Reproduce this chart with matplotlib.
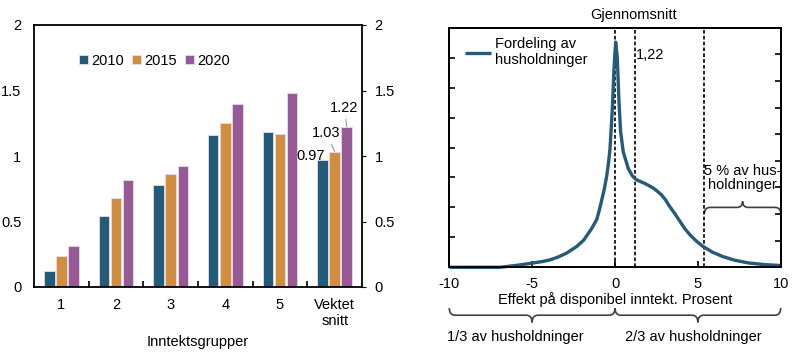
import numpy as np
import matplotlib
matplotlib.use("Agg")
import matplotlib.pyplot as plt
import matplotlib.transforms as mtransforms
from matplotlib.path import Path
from matplotlib.patches import PathPatch

plt.rcParams["font.family"] = ["Liberation Sans", "DejaVu Sans"]
plt.rcParams["font.size"] = 10

# Left panel: bar chart by income group
groups = ["1", "2", "3", "4", "5", "Vektet\nsnitt"]
years = ["2010", "2015", "2020"]
v2010 = [0.12, 0.54, 0.78, 1.16, 1.18, 0.97]
v2015 = [0.24, 0.68, 0.86, 1.25, 1.17, 1.03]
v2020 = [0.31, 0.82, 0.92, 1.40, 1.48, 1.22]
bar_colors = ["#245a7a", "#d18d40", "#985a96"]

# Right panel: distribution of households
dist_x = [-10, -6.94, -6.0, -5.0, -4.4, -3.9, -3.4, -2.9, -2.3, -1.9,
          -1.4, -1.1, -0.95, -0.8, -0.65, -0.5, -0.4, -0.3, -0.16, -0.06,
          0.04, 0.14, 0.24, 0.34, 0.5, 0.8, 1.05, 1.3, 1.8, 2.3, 2.6, 2.8,
          3.05, 3.3, 3.6, 3.9, 4.2, 4.5, 4.9, 5.3, 5.9, 6.5, 7.2, 8.0,
          9.0, 10]
dist_y = [0, 0, 0.06, 0.14, 0.19, 0.25, 0.35, 0.48, 0.70, 0.90,
          1.30, 1.60, 1.90, 2.25, 2.60, 3.05, 3.45, 3.97, 5.3, 6.63,
          7.52, 6.97, 5.52, 4.52, 3.85, 3.3, 3.05, 2.92, 2.8, 2.65, 2.52,
          2.42, 2.25, 2.03, 1.8, 1.55, 1.30, 1.10, 0.88, 0.70, 0.50, 0.36,
          0.24, 0.15, 0.09, 0.06]
mean_val = 1.22
pct5_val = 5.4

fig = plt.figure(figsize=(7.97, 3.64), dpi=100)

# ---------------- left panel
ax1 = fig.add_axes([34/797, 77/364, 328/797, 262/364])
pos = np.arange(len(groups))
w = 0.19
off = 0.22
for i, (vals, col) in enumerate(zip([v2010, v2015, v2020], bar_colors)):
    ax1.bar(pos + (i - 1) * off, vals, width=w, color=col,
            edgecolor="#e6dde8", linewidth=0.6, label=years[i])

ax1.set_xlim(-0.5, 5.5)
ax1.set_ylim(0, 2)
ax1.set_yticks([0, 0.5, 1, 1.5, 2])
ax1.set_yticklabels(["0", "0.5", "1", "1.5", "2"])
ax1.tick_params(axis="y", left=False, right=True, labelright=True,
                direction="out", length=3, pad=6, labelsize=10.5)
ax1.set_xticks(pos)
ax1.set_xticklabels(groups, linespacing=1.15)
ax1.tick_params(axis="x", which="major", length=0, pad=8, labelsize=10.5)
ax1.set_xticks(pos[:-1] + 0.5, minor=True)
ax1.tick_params(axis="x", which="minor", direction="in", length=4, width=1.2)
for s in ax1.spines.values():
    s.set_linewidth(1.3)
ax1.set_xlabel("Inntektsgrupper", fontsize=10.5, labelpad=5)

ax1.legend(loc="center left", bbox_to_anchor=(0.12, 0.863), ncol=3,
           frameon=False, handlelength=0.6, handleheight=0.6,
           handletextpad=0.2, columnspacing=0.6, fontsize=10.5,
           borderaxespad=0)

ax1.text(4.82, 1.0, "0.97", ha="right", va="center", fontsize=10.5)
ax1.annotate("1.03", xy=(5.0, 1.035), xytext=(4.85, 1.173),
             ha="center", va="center", fontsize=10.5,
             arrowprops=dict(arrowstyle="-", color="#999999", lw=0.8,
                             shrinkA=1, shrinkB=0))
ax1.annotate("1.22", xy=(5.22, 1.225), xytext=(5.18, 1.364),
             ha="center", va="center", fontsize=10.5,
             arrowprops=dict(arrowstyle="-", color="#999999", lw=0.8,
                             shrinkA=1, shrinkB=0))

# ---------------- right panel
ax2 = fig.add_axes([449.3/797, 96.7/364, 331.4/797, 239.6/364])
ax2.plot(dist_x, dist_y, color="#245a7a", lw=2.4, solid_capstyle="butt",
         solid_joinstyle="round", label="Fordeling av\nhusholdninger",
         clip_on=False, zorder=3)
ax2.set_xlim(-10, 10)
ax2.set_ylim(0, 8)
for xv in [0, mean_val, pct5_val]:
    ax2.axvline(xv, color="black", lw=1.2, ls=(0, (2.2, 1.3)), zorder=2)

ax2.set_xticks([-10, -5, 0, 5, 10])
ax2.set_xticklabels(["-10", "-5", "0", "5", "10"])
ax2.tick_params(axis="x", direction="in", length=4, width=1.2, pad=7,
                labelsize=10.5)
ax2.set_yticks(np.arange(1, 8))
ax2.tick_params(axis="y", direction="in", length=4, width=1.2,
                labelleft=False)
ax2r = ax2.twinx()
ax2r.set_ylim(0, 9)
ax2r.set_yticks(np.arange(1, 9))
ax2r.tick_params(axis="y", direction="in", length=4, width=1.2,
                 labelright=False)
for a in (ax2, ax2r):
    for s in a.spines.values():
        s.set_linewidth(1.3)

ax2.legend(loc="upper left", bbox_to_anchor=(0.03, 0.985), frameon=False,
           handlelength=1.8, handletextpad=0.25, fontsize=10.5,
           borderaxespad=0, labelspacing=0.1)

ax2.text(1.1, 1.055, "Gjennomsnitt", transform=ax2.get_xaxis_transform(),
         ha="center", va="center", fontsize=10.5)
ax2.text(mean_val + 0.05, 7.08, "1,22", ha="left", va="center", fontsize=10.5)
ax2.text(7.7, 2.97, "5 % av hus-\nholdninger", ha="center", va="center",
         fontsize=10.5, linespacing=1.0)
ax2.text(0.5, -0.135, "Effekt på disponibel inntekt. Prosent",
         transform=ax2.transAxes, ha="center", va="center", fontsize=10.5)

trans = mtransforms.blended_transform_factory(ax2.transData, ax2.transAxes)


def brace(ax, x0, x1, y, h, tr, up=True):
    d = 1 if up else -1
    xm = (x0 + x1) / 2
    q = 0.35
    verts = [(x0, y - d * h), (x0, y), (x0 + q, y),
             (xm - q, y), (xm, y), (xm, y + d * h),
             (xm, y), (xm + q, y),
             (x1 - q, y), (x1, y), (x1, y - d * h)]
    codes = [Path.MOVETO, Path.CURVE3, Path.CURVE3,
             Path.LINETO, Path.CURVE3, Path.CURVE3,
             Path.CURVE3, Path.CURVE3,
             Path.LINETO, Path.CURVE3, Path.CURVE3]
    ax.add_patch(PathPatch(Path(verts, codes), fill=False, lw=1.2,
                           edgecolor="#404040", transform=tr, clip_on=False))


brace(ax2, pct5_val, 10, 0.25, 0.025, trans, up=True)
brace(ax2, -10, 0, -0.2, 0.03, trans, up=False)
brace(ax2, 0, 10, -0.2, 0.03, trans, up=False)

ax2.text(-6.0, -0.29, "1/3 av husholdninger", transform=trans,
         ha="center", va="center", fontsize=10.5)
ax2.text(4.75, -0.29, "2/3 av husholdninger", transform=trans,
         ha="center", va="center", fontsize=10.5)

fig.savefig("out.png", dpi=100)
